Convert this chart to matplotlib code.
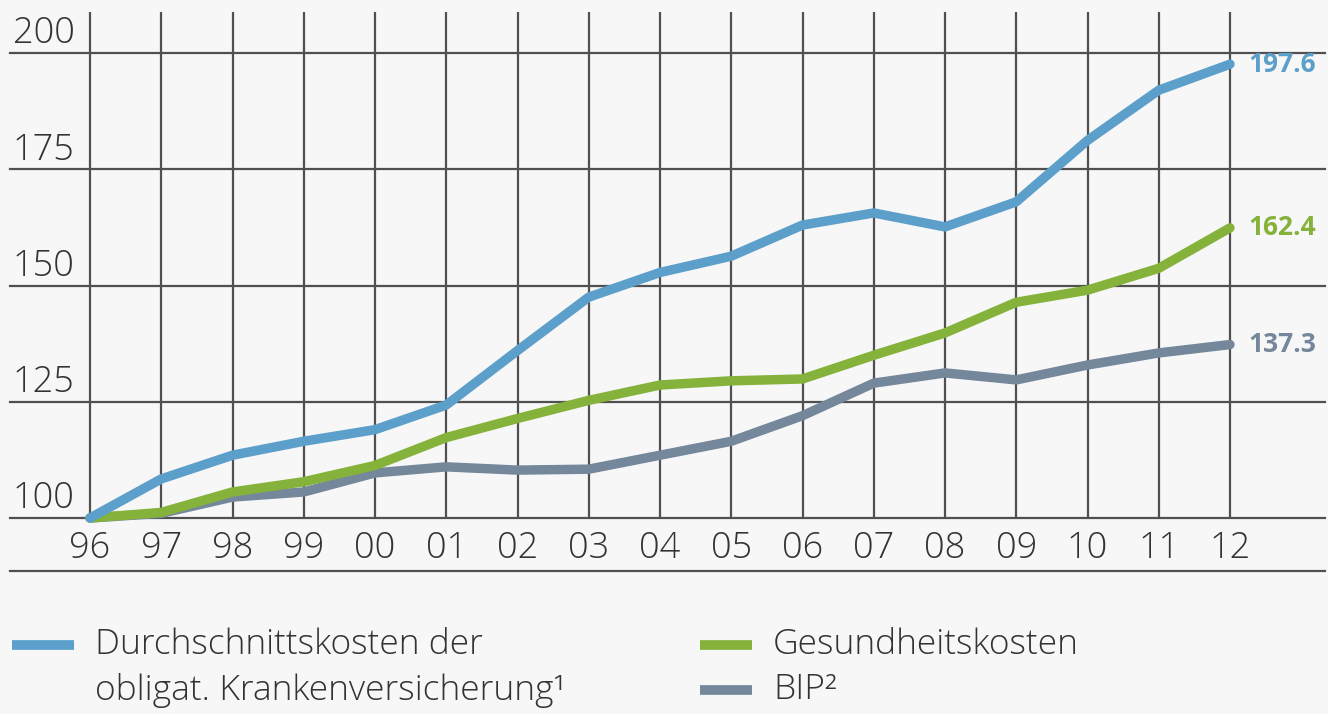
import matplotlib
matplotlib.use('Agg')
import matplotlib.pyplot as plt
from matplotlib.lines import Line2D

years = ['96', '97', '98', '99', '00', '01', '02', '03', '04', '05', '06',
         '07', '08', '09', '10', '11', '12']
okp = [100, 108.4, 113.5, 116.5, 119.0, 124.3, 136.0, 147.5, 152.8, 156.3,
       163.0, 165.6, 162.6, 168.0, 181.2, 192.0, 197.6]
gesundheit = [100, 101.2, 105.6, 107.8, 111.3, 117.3, 121.4, 125.3, 128.6,
              129.5, 129.9, 135.0, 139.8, 146.4, 149.0, 153.7, 162.4]
bip = [100, 101.0, 104.5, 105.6, 109.7, 111.0, 110.3, 110.5, 113.5, 116.5,
       122.0, 129.0, 131.2, 129.7, 132.9, 135.5, 137.3]
y_ticks = [100, 125, 150, 175, 200]

BLUE = '#5b9fca'
GREEN = '#84b23a'
GREY = '#75879b'
GRID = '#505050'
BG = '#f7f7f7'
TXT = '#333333'

plt.rcParams['font.family'] = ['Open Sans', 'DejaVu Sans']

W, H = 1328, 714
fig = plt.figure(figsize=(W / 100, H / 100), dpi=100, facecolor=BG)
# axes: px x 10..1325, y 12..518 (bottom = value 100)
ax = fig.add_axes([10 / W, 1 - 518 / H, 1315 / W, 506 / H], facecolor=BG)
step = 71.25
ax.set_xlim(-80 / step, 1235 / step)
ax.set_ylim(100, 100 + 506 * 25 / 116.25)
for s in ax.spines.values():
    s.set_visible(False)

x = list(range(len(years)))
top = ax.get_ylim()[1]
ax.vlines(x, 100, top, color=GRID, lw=1.6, clip_on=False, zorder=1)
for v in y_ticks:
    ax.axhline(v, color=GRID, lw=1.6, clip_on=False, zorder=1)
    ax.annotate(str(v), xy=(0, v), xytext=(-11, 7), textcoords='offset points',
                ha='right', va='baseline', fontsize=26, color=TXT,
                fontweight='light')

ax.set_xticks(x)
ax.set_xticklabels(years, fontweight='light')
ax.tick_params(axis='x', length=0, pad=9, labelsize=26, labelcolor=TXT)
ax.set_yticks([])

for vals, c in [(bip, GREY), (gesundheit, GREEN), (okp, BLUE)]:
    ax.plot(x, vals, color=c, lw=6.8, solid_capstyle='round',
            solid_joinstyle='round', zorder=3, clip_on=False)
    ax.annotate(f'{vals[-1]:.1f}', xy=(x[-1], vals[-1]), xytext=(13, 0),
                textcoords='offset points', ha='left', va='center',
                fontsize=19, fontweight='bold', color=c)

# bottom separator line
fig.add_artist(Line2D([10 / W, 1325 / W], [1 - 571 / H, 1 - 571 / H],
                      color=GRID, lw=1.6))

# legend
def leg(x0, x1, y, color, text, tx):
    fig.add_artist(Line2D([x0 / W, x1 / W], [1 - y / H, 1 - y / H],
                          color=color, lw=7, solid_capstyle='butt'))
    fig.text(tx / W, 1 - y / H, text, ha='left', va='center', fontsize=25.5,
             color=TXT, fontweight='light')

leg(12, 74, 645, BLUE, 'Durchschnittskosten der', 95)
fig.text(95 / W, 1 - 690 / H, 'obligat. Krankenversicherung¹', ha='left',
         va='center', fontsize=25.5, color=TXT, fontweight='light')
leg(700, 752, 645, GREEN, 'Gesundheitskosten', 773)
leg(700, 752, 690, GREY, 'BIP²', 773)

fig.savefig('out.png', dpi=100, facecolor=BG)
